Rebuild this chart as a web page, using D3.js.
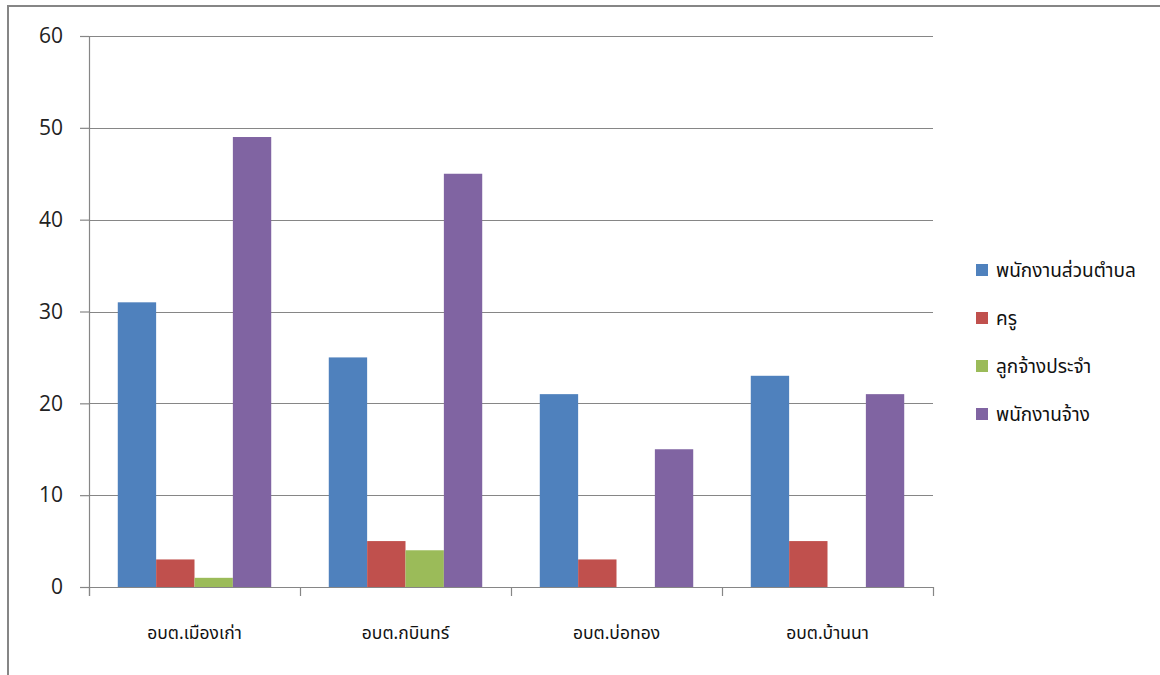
<!DOCTYPE html>
<html>
<head>
<meta charset="utf-8">
<script src="https://cdn.jsdelivr.net/npm/d3@7/dist/d3.min.js"></script>
<style>
  html, body { margin: 0; padding: 0; background: #fff; }
  svg { display: block; }
  text { font-family: Tahoma, "Noto Sans Thai", "Noto Sans", "DejaVu Sans", sans-serif; }
</style>
</head>
<body>
<svg id="chart" width="1160" height="675"></svg>
<script>
// Staff counts per sub-district administrative organisation
const categories = ["อบต.เมืองเก่า", "อบต.กบินทร์", "อบต.บ่อทอง", "อบต.บ้านนา"];
const seriesNames = ["พนักงานส่วนตำบล", "ครู", "ลูกจ้างประจำ", "พนักงานจ้าง"];
const seriesColors = ["#4F81BD", "#C0504D", "#9BBB59", "#8064A2"];
const staffOfficers = [31, 25, 21, 23];
const teachers = [3, 5, 3, 5];
const permanentEmployees = [1, 4, 0, 0];
const contractEmployees = [49, 45, 15, 21];
const yTicks = [0, 10, 20, 30, 40, 50, 60];

const seriesValues = [staffOfficers, teachers, permanentEmployees, contractEmployees];

const svg = d3.select("#chart");

// Outer frame (top and left edges visible)
svg.append("path")
  .attr("d", "M8,675 L8,6 L1160,6")
  .attr("fill", "none")
  .attr("stroke", "#868686")
  .attr("stroke-width", 2);

const plot = { left: 89, right: 933, top: 36, bottom: 587 };

const x0 = d3.scaleBand()
  .domain(categories)
  .range([plot.left, plot.right])
  .paddingInner(0)
  .paddingOuter(0);

// 150% gap width between clusters
const barW = x0.bandwidth() / 5.5;
const x1 = d3.scaleBand()
  .domain(seriesNames)
  .range([barW * 0.75, barW * 4.75])
  .padding(0);

const y = d3.scaleLinear().domain([0, 60]).range([plot.bottom, plot.top]);

// Value axis ticks and labels
const yAxis = d3.axisLeft(y).tickValues(yTicks).tickSize(9).tickPadding(17);
const gy = svg.append("g").attr("transform", `translate(${plot.left},0)`).call(yAxis);
gy.select(".domain").remove();
gy.selectAll(".tick line").attr("stroke", "#868686").attr("stroke-width", 1.2);
gy.selectAll(".tick text")
  .attr("fill", "#222")
  .style("font-size", "21px")
  .style("font-family", "'Open Sans', 'DejaVu Sans', sans-serif");

// Horizontal gridlines
svg.append("g")
  .selectAll("line")
  .data(yTicks)
  .join("line")
  .attr("x1", plot.left)
  .attr("x2", plot.right)
  .attr("y1", d => Math.round(y(d)) + 0.5)
  .attr("y2", d => Math.round(y(d)) + 0.5)
  .attr("stroke", "#868686")
  .attr("stroke-width", 1.2);

// Bars
const groups = svg.append("g")
  .selectAll("g")
  .data(categories)
  .join("g")
  .attr("transform", d => `translate(${x0(d)},0)`);

groups.selectAll("rect")
  .data((d, i) => seriesNames.map((s, j) => ({ s, j, v: seriesValues[j][i] })))
  .join("rect")
  .attr("x", d => x1(d.s))
  .attr("width", x1.bandwidth())
  .attr("y", d => y(d.v))
  .attr("height", d => y(0) - y(d.v))
  .attr("fill", d => seriesColors[d.j]);

// Vertical axis line
svg.append("line")
  .attr("x1", plot.left + 0.5).attr("x2", plot.left + 0.5)
  .attr("y1", plot.top).attr("y2", plot.bottom + 9)
  .attr("stroke", "#868686")
  .attr("stroke-width", 1.2);

// Category axis labels
const xAxis = d3.axisBottom(x0).tickSize(0).tickPadding(40);
const gx = svg.append("g").attr("transform", `translate(0,${plot.bottom})`).call(xAxis);
gx.select(".domain").remove();
gx.selectAll(".tick text")
  .attr("fill", "#111")
  .style("font-size", "17.5px");

// Category separators
const boundaries = categories.map(c => x0(c)).concat([plot.right]);
svg.append("g")
  .selectAll("line")
  .data(boundaries)
  .join("line")
  .attr("x1", d => Math.round(d) + 0.5)
  .attr("x2", d => Math.round(d) + 0.5)
  .attr("y1", plot.bottom)
  .attr("y2", plot.bottom + 9)
  .attr("stroke", "#868686")
  .attr("stroke-width", 1.2);

svg.append("line")
  .attr("x1", plot.left).attr("x2", plot.right)
  .attr("y1", Math.round(y(0)) + 0.5).attr("y2", Math.round(y(0)) + 0.5)
  .attr("stroke", "#868686")
  .attr("stroke-width", 1.2);

// Legend
const legend = svg.append("g").attr("transform", "translate(976,270)");
const li = legend.selectAll("g")
  .data(seriesNames)
  .join("g")
  .attr("transform", (d, i) => `translate(0,${i * 48})`);
li.append("rect")
  .attr("x", 0).attr("y", -6)
  .attr("width", 12).attr("height", 12)
  .attr("fill", (d, i) => seriesColors[i]);
li.append("text")
  .attr("x", 20).attr("y", 0)
  .attr("dy", "0.35em")
  .attr("fill", "#111")
  .style("font-size", "19px")
  .text(d => d);
</script>
</body>
</html>
